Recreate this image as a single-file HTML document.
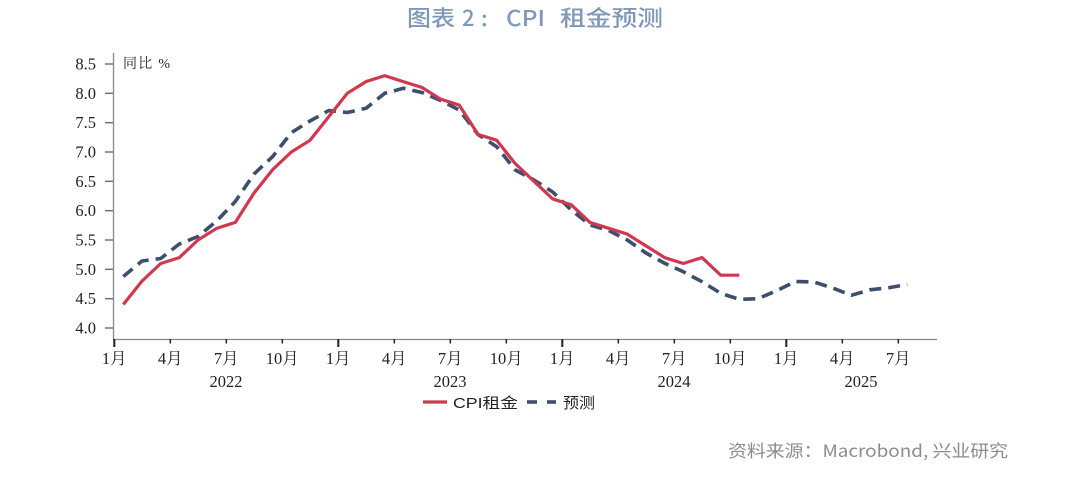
<!DOCTYPE html>
<html><head><meta charset="utf-8">
<style>
html,body{margin:0;padding:0;background:#fff;}
svg{display:block;}
</style></head>
<body>
<svg width="1080" height="488" viewBox="0 0 1080 488" xmlns="http://www.w3.org/2000/svg">
<rect width="1080" height="488" fill="#fff"/>
<!-- Title -->
<g font-family="'Noto Sans CJK SC','Liberation Sans',sans-serif" font-size="22" font-weight="500" fill="#7f97b8">
<text x="407" y="26" textLength="48" lengthAdjust="spacingAndGlyphs">图表</text>
<text x="462" y="26">2</text>
<text x="481" y="26">:</text>
<text x="506" y="26" textLength="39" lengthAdjust="spacingAndGlyphs">CPI</text>
<text x="560" y="26" textLength="103" lengthAdjust="spacingAndGlyphs">租金预测</text>
</g>

<!-- Axes -->
<line x1="113.5" y1="53" x2="113.5" y2="339.5" stroke="#888" stroke-width="1.3"/>
<line x1="113" y1="339.5" x2="937" y2="339.5" stroke="#888" stroke-width="1.3"/>

<!-- Y ticks -->
<g stroke="#555" stroke-width="1.2">
<line x1="105" y1="64" x2="113" y2="64"/>
<line x1="105" y1="93.3" x2="113" y2="93.3"/>
<line x1="105" y1="122.7" x2="113" y2="122.7"/>
<line x1="105" y1="152" x2="113" y2="152"/>
<line x1="105" y1="181.3" x2="113" y2="181.3"/>
<line x1="105" y1="210.7" x2="113" y2="210.7"/>
<line x1="105" y1="240" x2="113" y2="240"/>
<line x1="105" y1="269.3" x2="113" y2="269.3"/>
<line x1="105" y1="298.7" x2="113" y2="298.7"/>
<line x1="105" y1="328" x2="113" y2="328"/>
</g>
<g font-family="'Liberation Serif',serif" font-size="16.5" fill="#222" text-anchor="end">
<text x="96" y="69.5">8.5</text>
<text x="96" y="98.8">8.0</text>
<text x="96" y="128.2">7.5</text>
<text x="96" y="157.5">7.0</text>
<text x="96" y="186.8">6.5</text>
<text x="96" y="216.2">6.0</text>
<text x="96" y="245.5">5.5</text>
<text x="96" y="274.8">5.0</text>
<text x="96" y="304.2">4.5</text>
<text x="96" y="333.5">4.0</text>
</g>
<text x="123" y="68" font-family="'Liberation Serif','Noto Serif CJK SC',serif" font-size="14" fill="#222" textLength="47" lengthAdjust="spacing">同比  %</text>

<!-- X ticks -->
<g stroke="#222" stroke-width="2">
<line x1="114.3" y1="339" x2="114.3" y2="347"/>
<line x1="338.3" y1="339" x2="338.3" y2="347"/>
<line x1="562.3" y1="339" x2="562.3" y2="347"/>
<line x1="786.3" y1="339" x2="786.3" y2="347"/>
</g>
<g stroke="#222" stroke-width="1.5">
<line x1="170.3" y1="339" x2="170.3" y2="343.5"/>
<line x1="226.3" y1="339" x2="226.3" y2="343.5"/>
<line x1="282.3" y1="339" x2="282.3" y2="343.5"/>
<line x1="394.3" y1="339" x2="394.3" y2="343.5"/>
<line x1="450.3" y1="339" x2="450.3" y2="343.5"/>
<line x1="506.3" y1="339" x2="506.3" y2="343.5"/>
<line x1="618.3" y1="339" x2="618.3" y2="343.5"/>
<line x1="674.3" y1="339" x2="674.3" y2="343.5"/>
<line x1="730.3" y1="339" x2="730.3" y2="343.5"/>
<line x1="842.3" y1="339" x2="842.3" y2="343.5"/>
<line x1="898.3" y1="339" x2="898.3" y2="343.5"/>
</g>
<g font-family="'Liberation Serif','Noto Serif CJK SC',serif" font-size="16.5" fill="#222" text-anchor="middle">
<text x="114.3" y="364">1月</text>
<text x="170.3" y="364">4月</text>
<text x="226.3" y="364">7月</text>
<text x="282.3" y="364">10月</text>
<text x="338.3" y="364">1月</text>
<text x="394.3" y="364">4月</text>
<text x="450.3" y="364">7月</text>
<text x="506.3" y="364">10月</text>
<text x="562.3" y="364">1月</text>
<text x="618.3" y="364">4月</text>
<text x="674.3" y="364">7月</text>
<text x="730.3" y="364">10月</text>
<text x="786.3" y="364">1月</text>
<text x="842.3" y="364">4月</text>
<text x="898.3" y="364">7月</text>
<text x="226" y="387">2022</text>
<text x="450" y="387">2023</text>
<text x="674" y="387">2024</text>
<text x="861" y="387">2025</text>
</g>

<!-- Forecast dashed -->
<polyline fill="none" stroke="#3e4f6e" stroke-width="3.6" stroke-dasharray="12 7" stroke-linejoin="round"
points="123.3,276.5 142.0,261.0 160.7,258.5 179.3,244.0 198.0,236.5 216.7,221.0 235.3,201.5 254.0,174.0 272.7,156.5 291.3,132.7 310.0,121.0 328.7,110.6 347.3,112.5 366.0,108.3 384.7,93.3 403.3,88.3 422.0,92.5 440.7,100.5 459.3,110 478.0,134.5 496.7,146.7 515.3,170 534.0,180 552.7,192 571.3,210 590.0,225 608.7,230.5 627.3,240 646.0,253 664.7,263.3 683.3,271.7 702.0,281.7 720.7,293.3 739.3,299.3 758.0,298.7 776.7,290.7 795.3,281.5 814.0,282 832.7,288 851.3,295.3 870.0,289.8 888.7,287.7 907.3,284.5"/>

<!-- CPI rent red -->
<polyline fill="none" stroke="#d0384f" stroke-width="3.2" stroke-linejoin="miter"
points="123.3,304.5 142.0,281.1 160.7,263.5 179.3,257.6 198.0,240.0 216.7,228.3 235.3,222.4 254.0,193.1 272.7,169.6 291.3,152.0 310.0,140.3 328.7,116.8 347.3,93.3 366.0,81.6 384.7,75.7 403.3,81.6 422.0,87.5 440.7,99.2 459.3,105.1 478.0,134.4 496.7,140.3 515.3,163.7 534.0,181.3 552.7,198.9 571.3,204.8 590.0,222.4 608.7,228.3 627.3,234.1 646.0,245.9 664.7,257.6 683.3,263.5 702.0,257.6 720.7,275.2 739.3,275.2"/>

<!-- Legend -->
<line x1="423" y1="402" x2="447" y2="402" stroke="#d0384f" stroke-width="3.2"/>
<text x="453" y="408" font-family="'Liberation Sans','Noto Sans CJK SC',sans-serif" font-size="15" fill="#222" textLength="65" lengthAdjust="spacingAndGlyphs">CPI租金</text>
<line x1="527" y1="402" x2="537" y2="402" stroke="#3e4f6e" stroke-width="3.6"/>
<line x1="547" y1="402" x2="556" y2="402" stroke="#3e4f6e" stroke-width="3.6"/>
<text x="563" y="408" font-family="'Liberation Sans','Noto Sans CJK SC',sans-serif" font-size="15" fill="#222" textLength="32" lengthAdjust="spacingAndGlyphs">预测</text>

<!-- Footer -->
<text x="728" y="457" font-family="'Noto Sans CJK SC','Liberation Sans',sans-serif" font-size="17" fill="#8c8c8c" textLength="280" lengthAdjust="spacingAndGlyphs">资料来源：Macrobond, 兴业研究</text>
</svg>
</body></html>
